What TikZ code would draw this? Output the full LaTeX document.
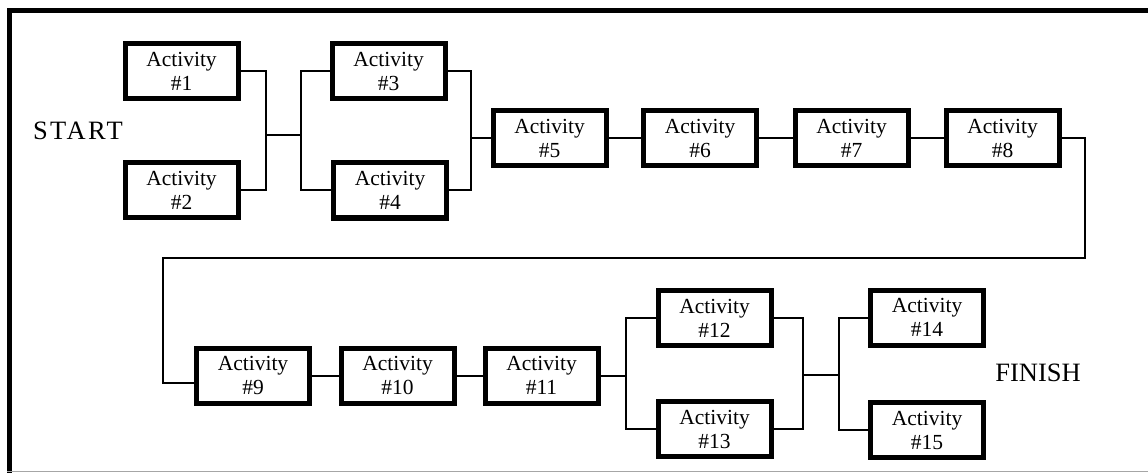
\documentclass[tikz,border=0pt]{standalone}
\usepackage{fontspec}
\setmainfont{Liberation Serif}
\begin{document}
\begin{tikzpicture}[x=1pt,y=-1pt,
  actbox/.style={draw=black, line width=5pt, rectangle, minimum width=113pt, minimum height=55pt, inner sep=0pt, align=center, font=\fontsize{21.5}{24}\selectfont},
  conn/.style={draw=black, line width=2pt},
  lbl/.style={font=\fontsize{26.5}{30}\selectfont, inner sep=0pt}]
\useasboundingbox (0,0) rectangle (1148,473);
% frame
\draw[line width=5pt] (7,11) -- (1148,11);
\draw[line width=5pt] (9.5,9) -- (9.5,473);
\draw[line width=1.5pt, gray!70] (7,471.5) -- (1148,471.5);
% labels
\node[lbl] (start) at (78,131) {\addfontfeature{LetterSpace=9}START};
\node[lbl] (finish) at (1038,373) {FINISH};
% boxes
\node[actbox] (a1) at (181.5,71) {Activity\\\#1};
\node[actbox] (a2) at (181.5,190) {Activity\\\#2};
\node[actbox] (a3) at (388.5,71) {Activity\\\#3};
\node[actbox] (a4) at (390,190.5) {Activity\\\#4};
\node[actbox] (a5) at (549.5,138) {Activity\\\#5};
\node[actbox] (a6) at (700,138) {Activity\\\#6};
\node[actbox] (a7) at (851.5,138) {Activity\\\#7};
\node[actbox] (a8) at (1002.5,138) {Activity\\\#8};
\node[actbox] (a9) at (253,375.5) {Activity\\\#9};
\node[actbox] (a10) at (397.5,375.5) {Activity\\\#10};
\node[actbox] (a11) at (541.5,375.5) {Activity\\\#11};
\node[actbox] (a12) at (714.5,318) {Activity\\\#12};
\node[actbox] (a13) at (714.5,429) {Activity\\\#13};
\node[actbox] (a14) at (927,317.5) {Activity\\\#14};
\node[actbox] (a15) at (927,430) {Activity\\\#15};
% junctions
\coordinate (j1) at (266,135);
\coordinate (j2) at (301,135);
\coordinate (j3) at (471,138);
\coordinate (c1) at (1085,258);
\coordinate (c2) at (163,258);
\coordinate (c3) at (163,383);
\coordinate (j4) at (626,378);
\coordinate (j5) at (803,375);
\coordinate (j6) at (839,375);
% connectors
\draw[conn] (a1.east) -| (j1) |- (a2.east);
\draw[conn] (j1) -- (j2);
\draw[conn] (a3.west) -| (j2) |- (a4.west);
\draw[conn] (a3.east) -| (j3) |- (a4.east);
\draw[conn] (j3) -- (a5.west);
\draw[conn] (a5) -- (a6);
\draw[conn] (a6) -- (a7);
\draw[conn] (a7) -- (a8);
\draw[conn] (a8.east) -| (c1) -- (c2) -- (c3) -- (c3 -| a9.west);
\draw[conn] (a9) -- (a10);
\draw[conn] (a10) -- (a11);
\draw[conn] (a11.east) -- (a11.east -| j4);
\draw[conn] (a12.west) -| (j4) |- (a13.west);
\draw[conn] (a12.east) -| (j5) |- (a13.east);
\draw[conn] (j5) -- (j6);
\draw[conn] (a14.west) -| (j6) |- (a15.west);
\end{tikzpicture}
\end{document}
